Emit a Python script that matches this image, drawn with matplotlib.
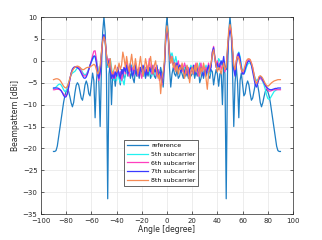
import numpy as np
import matplotlib
matplotlib.use("Agg")
import matplotlib.pyplot as plt

angles = list(range(-90, 91))

reference = [
    -20.7, -20.7, -20.5, -19.5, -17.5, -15.5, -13.5, -11.5, -9.5, -8.0,
    -7.0, -6.5, -7.0, -8.2, -9.6, -10.5, -9.5, -7.3, -5.6, -5.0,
    -5.5, -7.0, -8.5, -9.0, -7.5, -5.5, -4.6, -5.5, -7.5, -8.0,
    -5.5, -2.8, -4.5, -13.0, -5.0, -1.3, -5.0, -15.0, -2.0, 6.5,
    10.0, 6.5, -3.0, -31.5, -3.0, -0.8, -10.0, -2.5, -3.0, -5.8,
    -3.0, -2.0, -3.5, -5.5, -2.5, -2.0, -4.0, -3.5, -1.5, -3.5,
    -2.0, -4.0, -2.5, -4.0, -5.0, -2.0, -3.5, -2.5, -4.0, -2.0,
    -3.0, -3.5, -2.0, -4.0, -2.5, -3.5, -2.0, -4.0, -3.0, -2.0,
    -3.5, -4.0, -2.0, -3.5, -3.0, -1.5, -3.0, -6.0, -1.5, 6.5,
    10.0,
    6.5, -1.5, -6.0, -3.0, -1.5, -3.0, -3.5, -2.0, -4.0, -3.5,
    -2.0, -3.0, -4.0, -2.0, -3.5, -2.5, -4.0, -2.0, -3.5, -3.0,
    -2.0, -4.0, -2.5, -3.5, -2.0, -5.0, -4.0, -2.5, -4.0, -2.0,
    -3.5, -1.5, -3.5, -4.0, -2.0, -2.5, -5.5, -3.5, -2.0, -3.0,
    -5.8, -3.0, -2.5, -10.0, -0.8, -3.0, -31.5, -3.0, 6.5, 10.0,
    6.5, -2.0, -15.0, -5.0, -1.3, -5.0, -13.0, -4.5, -2.8, -5.5,
    -8.0, -7.5, -5.5, -4.6, -5.5, -7.5, -9.0, -8.5, -7.0, -5.5,
    -5.0, -5.6, -7.3, -9.5, -10.5, -9.6, -8.2, -7.0, -6.5, -7.0,
    -8.0, -9.5, -11.5, -13.5, -15.5, -17.5, -19.5, -20.5, -20.7, -20.7,
]

sub5 = [
    -6.3, -6.2, -6.0, -5.7, -5.4, -5.3, -5.5, -6.0, -6.6, -7.0,
    -6.8, -6.0, -5.0, -4.0, -3.2, -2.8, -2.6, -2.4, -2.0, -1.6,
    -1.5, -1.6, -2.0, -2.6, -3.0, -3.2, -3.0, -2.5, -1.8, -1.0,
    -0.3, 0.3, 0.8, 1.2, 0.5, -1.5, -3.5, -2.0, 1.5, 4.5,
    5.5, 4.0, 1.0, -1.5, -0.5, 0.5, -1.5, -3.5, -4.5, -3.0,
    -4.5, -2.5, -4.0, -5.0, -3.5, -4.5, -5.5, -3.0, -2.0, -3.0,
    -1.5, -2.5, -1.0, -3.0, -2.0, -1.0, -2.5, -3.5, -2.0, -1.5,
    -3.0, -2.0, -3.5, -1.5, -2.5, -1.5, -3.0, -2.0, -3.5, -1.5,
    -2.5, -3.0, -1.5, -2.5, -4.0, -3.0, -5.0, -3.0, -0.5, 5.5,
    7.8,
    6.0, 2.2, 1.0, 1.8, 0.5, -0.5, 1.0, -0.5, -1.5, -1.0,
    -2.0, -1.0, -2.5, -1.5, -1.0, -2.5, -1.5, -2.0, -1.0, -2.0,
    -3.0, -1.5, -2.5, -1.5, -2.0, -0.5, -2.0, -1.5, -3.0, -2.0,
    -1.0, -2.5, -1.5, -3.0, -1.0, 1.5, 2.5, 1.0, -0.5, -1.5,
    0.5, 0.0, -1.0, 0.0, -1.0, -1.5, -1.0, 2.5, 6.0, 7.5,
    6.5, 2.5, -1.5, -3.0, -0.5, 1.5, 2.0, 1.0, -1.0, -2.5,
    -3.0, -2.5, -1.5, -0.8, -0.5, -0.5, -1.0, -2.0, -3.0, -4.0,
    -4.5, -4.3, -4.0, -4.0, -4.2, -4.8, -5.5, -6.5, -7.8, -8.6,
    -8.8, -8.5, -8.0, -7.5, -7.0, -6.8, -6.6, -6.5, -6.5, -6.5,
]

sub6 = [
    -6.6, -6.6, -6.5, -6.5, -6.5, -6.6, -6.8, -7.2, -7.6, -8.0,
    -8.0, -7.5, -6.0, -4.2, -2.8, -2.0, -1.6, -1.4, -1.3, -1.4,
    -1.5, -1.8, -2.4, -3.0, -3.4, -3.5, -3.3, -2.8, -2.0, -1.0,
    0.0, 1.2, 2.2, 2.3, 0.5, -2.5, -4.5, -3.0, 1.0, 4.5,
    5.8, 4.5, 1.0, -0.5, 0.5, -1.0, -3.0, -4.0, -2.5, -4.0,
    -3.0, -1.5, -3.5, -2.5, -4.5, -3.0, -1.5, -3.0, 0.0, -2.0,
    -3.5, -1.0, -2.5, -1.5, -3.0, -0.5, -2.0, -3.5, -1.5, -2.5,
    -4.0, -2.0, -1.5, -3.0, -1.0, -2.5, 0.5, -2.0, -3.0, -1.0,
    -2.5, -1.5, -3.5, -2.0, -4.5, -3.0, -5.5, -3.5, -1.0, 5.0,
    7.5,
    5.5, 1.5, -0.5, 1.0, -0.5, -2.0, -0.5, -1.5, 0.0, -2.0,
    -1.0, -2.5, -1.5, -0.5, -2.0, -3.0, -1.5, -4.0, -2.5, -1.5,
    -3.0, -2.0, -0.5, -2.0, -3.5, -1.5, -0.5, -2.5, -1.0, -3.0,
    -1.5, -2.5, -0.5, -2.0, -1.0, 2.0, 3.3, 1.0, -1.0, 0.0,
    -1.5, -0.5, -2.0, -1.0, 0.0, -2.5, -1.5, 2.0, 6.0, 7.8,
    6.5, 2.5, -1.5, -2.5, 0.0, 1.5, 1.0, -0.5, -2.0, -3.0,
    -2.5, -1.5, -0.5, 0.0, 0.3, 0.2, -0.5, -1.5, -3.0, -4.5,
    -5.2, -4.8, -4.2, -4.0, -4.2, -4.6, -5.0, -5.6, -6.2, -6.7,
    -6.9, -6.9, -6.8, -6.7, -6.6, -6.6, -6.6, -6.6, -6.6, -6.6,
]

sub7 = [
    -6.2, -6.2, -6.2, -6.2, -6.3, -6.5, -6.8, -7.3, -7.9, -8.3,
    -8.2, -7.5, -6.0, -4.2, -2.8, -1.9, -1.5, -1.4, -1.4, -1.6,
    -1.8, -2.2, -2.8, -3.4, -3.9, -4.0, -3.7, -3.0, -2.0, -1.0,
    -0.2, 0.6, 1.1, 1.0, -0.5, -2.8, -4.0, -2.5, 1.5, 5.0,
    6.0, 4.8, 1.5, -1.0, 0.0, -2.0, -4.0, -3.0, -4.0, -2.5,
    -3.5, -1.5, -3.0, -4.0, -2.0, -3.0, -1.5, -2.5, -1.0, -3.0,
    -2.0, -0.5, -2.5, -3.5, -2.0, -1.0, -3.0, -2.0, -3.5, -1.5,
    -2.5, -1.0, -2.0, -3.5, -2.0, -3.0, -1.5, -2.5, -1.0, -3.0,
    -2.0, -2.5, -1.0, -3.0, -3.5, -2.5, -5.0, -3.0, -1.0, 4.5,
    7.3,
    5.5, 1.5, 0.0, 0.5, -1.0, -0.5, -1.5, -0.5, -2.0, -1.0,
    -2.5, -1.5, -2.0, -3.0, -1.5, -2.0, -3.5, -2.0, -1.5, -2.5,
    -1.0, -3.0, -2.0, -1.5, -2.5, -3.0, -1.5, -2.5, -3.5, -2.0,
    -3.0, -2.0, -1.0, -2.5, -1.5, 2.0, 3.0, 0.5, -1.5, -0.5,
    -2.0, -1.0, 0.0, -1.0, 1.0, -1.5, -2.0, 1.5, 5.5, 7.0,
    6.0, 2.0, -2.0, -3.5, -1.0, 1.0, 1.8, 0.5, -1.5, -3.0,
    -3.0, -2.0, -1.0, -0.3, 0.0, -0.2, -1.0, -2.5, -4.0, -5.5,
    -6.0, -5.2, -4.0, -3.6, -3.8, -4.4, -5.0, -5.6, -6.0, -6.3,
    -6.5, -6.6, -6.6, -6.5, -6.4, -6.3, -6.3, -6.2, -6.2, -6.2,
]

sub8 = [
    -4.3, -4.2, -4.1, -4.1, -4.2, -4.4, -4.8, -5.3, -5.8, -6.1,
    -6.2, -5.8, -5.0, -4.0, -3.0, -2.3, -1.8, -1.5, -1.3, -1.2,
    -1.3, -1.5, -1.8, -2.0, -2.0, -1.8, -1.6, -1.5, -1.5, -1.4,
    -1.2, -1.0, -0.8, -1.0, -2.0, -3.0, -2.5, -1.0, 2.0, 4.5,
    5.5, 4.5, 1.5, -0.5, -1.5, 0.5, -2.5, -3.0, -2.0, -1.0,
    -2.5, -2.0, -0.5, -2.0, -1.0, 2.0, 0.5, -1.5, 1.0, -1.0,
    -2.5, -0.5, 1.5, -1.0, -2.0, 0.5, -1.5, -3.0, -1.0, 1.0,
    -1.5, -3.5, -2.0, 0.5, -1.0, -2.5, -0.5, 1.0, -1.5, -3.0,
    -1.0, 0.0, -2.5, -4.0, -3.0, -7.5, -4.0, -2.5, 0.0, 5.5,
    8.0,
    6.0, 1.5, -0.5, 1.0, -1.5, -0.5, -2.5, -1.0, -3.0, -1.5,
    -2.0, -0.5, -2.5, -4.0, -2.0, -1.0, -3.0, -5.0, -2.5, -1.5,
    -3.0, -1.0, -2.5, -0.5, -2.0, -3.5, -1.5, -2.5, -0.5, -2.0,
    -4.0, -6.5, -3.0, -1.5, -0.5, 1.5, 2.5, 0.5, -1.0, -2.5,
    -1.5, -2.0, -3.0, -1.5, -0.5, -2.0, -1.5, 3.0, 7.0, 8.3,
    7.0, 3.0, -1.0, -2.0, 0.0, 1.0, 0.5, -0.5, -2.0, -2.5,
    -2.0, -1.0, 0.0, 0.4, 0.5, 0.3, -0.5, -1.5, -3.0, -4.5,
    -5.2, -4.5, -3.6, -3.4, -3.6, -4.0, -4.6, -5.2, -5.6, -5.8,
    -5.6, -5.3, -5.0, -4.8, -4.6, -4.5, -4.4, -4.3, -4.3, -4.3,
]

labels = ["reference", "5th subcarrier", "6th subcarrier", "7th subcarrier", "8th subcarrier"]
colors = ["#1f7fc4", "#22f0f0", "#ff3fbf", "#3a3aff", "#f58a55"]
xticks = list(range(-100, 101, 20))
yticks = list(range(-35, 11, 5))

plt.rcParams['font.family'] = ['DejaVu Sans']
fig = plt.figure(figsize=(3.22, 2.40), dpi=100)
ax = fig.add_axes([0.127, 0.108, 0.783, 0.821])

series = [reference, sub5, sub6, sub7, sub8]
for s, c, l in zip(series, colors, labels):
    ax.plot(angles, s, color=c, lw=0.9, label=l)

ax.set_xlim(-100, 100)
ax.set_ylim(-35, 10)
ax.set_xticks(xticks)
ax.set_yticks(yticks)
ax.grid(True, color="#e6e6e6", lw=0.5)
ax.set_axisbelow(True)
ax.tick_params(direction="in", length=2, width=0.5, labelsize=5, colors="#262626",
               top=True, right=True, pad=2.5)
for sp in ax.spines.values():
    sp.set_color("#262626")
    sp.set_linewidth(0.5)
ax.set_xlabel("Angle [degree]", fontsize=5.5, color="#262626", labelpad=1)
ax.set_ylabel("Beampattern [dBi]", fontsize=5.5, color="#262626", labelpad=1.5)

leg = ax.legend(loc="lower left", bbox_to_anchor=(0.329, 0.142), fontsize=4.5,
                handlelength=3.4, labelspacing=0.55, borderpad=0.45,
                handletextpad=0.5, fancybox=False, framealpha=1,
                edgecolor="#262626", borderaxespad=0)
leg.get_frame().set_linewidth(0.5)

fig.savefig("out.png", dpi=100)
